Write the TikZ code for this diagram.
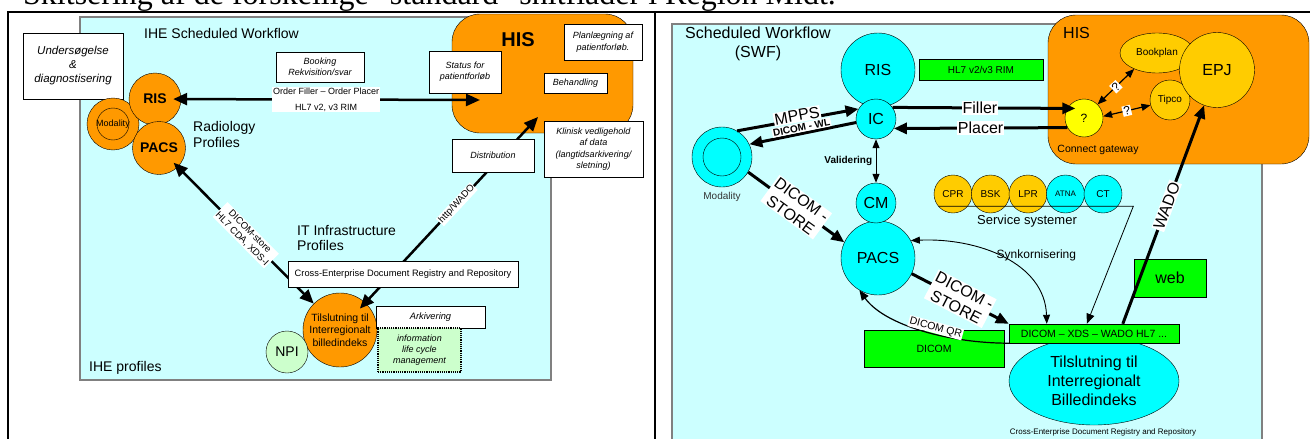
\documentclass[tikz,border=0pt]{standalone}
\usepackage{fontspec}
\setmainfont{Liberation Sans}
\newfontfamily\titlefont{Liberation Serif}
\usepackage{tikz}
\usetikzlibrary{positioning, arrows.meta, shapes.geometric}

\definecolor{lcyan}{RGB}{204,255,255}
\definecolor{hisorange}{RGB}{255,153,0}
\definecolor{gold}{RGB}{255,204,0}
\definecolor{aqua}{RGB}{0,255,255}
\definecolor{swfgreen}{RGB}{0,255,0}
\definecolor{lgreen}{RGB}{204,255,204}
\definecolor{qyellow}{RGB}{255,255,0}
\newcommand{\fsz}[2]{\fontsize{#1}{#2}\selectfont}

\begin{document}
\begin{tikzpicture}[x=1pt, y=-1pt,
        box/.style={draw, fill=white, inner sep=0pt, align=center, font=\itshape\fsz{9}{11}},
        circ/.style={circle, draw, inner sep=0pt},
        gbox/.style={draw, fill=swfgreen, inner sep=0pt, align=center},
        lbl/.style={fill=white, inner sep=1pt, align=center},
        txt/.style={inner sep=0pt, align=left, font=\fsz{14}{16}},
        fat/.style={line width=2.5pt, {Triangle[length=14pt,width=12pt]}-{Triangle[length=14pt,width=12pt]}},
        fatr/.style={line width=3pt, -{Triangle[length=13pt,width=11pt]}},
        thin2/.style={line width=1pt, {Triangle[length=9pt,width=7pt]}-{Triangle[length=9pt,width=7pt]}}]
    \useasboundingbox (0,0) rectangle (1310,439);
    \node[anchor=base west, inner sep=0pt, font=\titlefont\fsz{32}{36}] (title) at (23,5) {Skitsering af de forskellige "standard" snitflader i Region Midt.};

    % left: IHE profiles
    \draw[gray, line width=1.2pt, fill=lcyan] (80,17) rectangle (551,380);
    \node[font=\fsz{14}{16}] (ihesw) at (221.5,33) {IHE Scheduled Workflow};
    \node[box, font=\itshape\fsz{11.5}{14}, minimum width=100pt, minimum height=66pt] (under) at (73,66) {Undersøgelse\\\&\\diagnostisering};
    \node[draw, fill=hisorange, rounded corners=28pt, minimum width=181pt, minimum height=119pt] (hisl) at (542.5,73.5) {};
    \node[font=\bfseries\fsz{20}{24}] (hisltxt) at (518,40) {HIS};
    \node[circ, fill=hisorange, minimum size=52pt, font=\fsz{9}{11}] (modl) at (113,124) {Modality};
    \node[circ, minimum size=32pt] (modlin) at (113,124) {};
    \node[circ, fill=hisorange, minimum size=52pt, font=\bfseries\fsz{14}{16}] (risl) at (155,99) {RIS};
    \node[circ, fill=hisorange, minimum size=53pt, font=\bfseries\fsz{14}{16}] (pacsl) at (159,148) {PACS};
    \node[txt, anchor=west] (radprof) at (193,134) {Radiology\\Profiles};
    \node[circ, fill=hisorange, minimum size=74pt, align=center, font=\fsz{10.5}{12.5}] (tilsl) at (340,330) {Tilslutning til\\Interregionalt\\billedindeks};
    \node[circ, fill=lgreen, minimum size=42pt, font=\fsz{14}{16}] (npi) at (287,352) {NPI};
    \coordinate (hisin) at (480,100);
    \coordinate (hisout) at (538,117);
    \draw[fat, shorten <=-8pt] (risl) -- (hisin) node[lbl, pos=0.485, font=\fsz{9}{16}] (ordlbl) {Order Filler – Order Placer\\HL7 v2, v3 RIM};
    \draw[fat, shorten <=-6pt] (pacsl) -- (tilsl) node[lbl, midway, sloped, font=\fsz{9.5}{11}] (storelbl) {DICOM-store\\HL7 CDA, XDS-I};
    \draw[fat, shorten <=-8pt] (tilsl) -- (hisout) node[lbl, pos=0.53, sloped, font=\fsz{9.5}{11}] (wadolbl) {http/WADO};
    \node[box, minimum width=88pt, minimum height=30pt] (booking) at (320,67) {Booking\\Rekvisition/svar};
    \node[box, minimum width=72pt, minimum height=42pt] (status) at (465,72) {Status for\\patientforløb};
    \node[box, font=\itshape\fsz{9}{12}, minimum width=78pt, minimum height=36pt] (plan) at (603,42) {Planlægning af\\patientforløb.};
    \node[box, minimum width=63pt, minimum height=20pt] (behand) at (575.5,83) {Behandling};
    \node[box, font=\itshape\fsz{9}{11.5}, minimum width=99pt, minimum height=56pt] (klinisk) at (593.5,149) {Klinisk vedligehold\\af data\\(langtidsarkivering/\\sletning)};
    \node[box, minimum width=82pt, minimum height=33pt] (distrib) at (493,155.5) {Distribution};
    \node[txt, anchor=west] (itprof) at (297,238) {IT Infrastructure\\Profiles};
    \node[box, font=\fsz{9.3}{11}, minimum width=230pt, minimum height=26pt] (xdsl) at (403,274) {Cross-Enterprise Document Registry and Repository};
    \node[box, font=\itshape\fsz{9.3}{11}, minimum width=109pt, minimum height=22pt] (arkiv) at (430.5,317) {Arkivering};
    \node[box, fill=lgreen, densely dotted, line width=1.2pt, minimum width=83pt, minimum height=44pt] (ilcm) at (419.5,350) {information\\life cycle\\management};
    \node[txt, anchor=west] (iheprof) at (89,368) {IHE profiles};

    % right: SWF
    \draw[gray, line width=1.2pt, fill=lcyan] (672,24) rectangle (1262,450);
    \node[draw, fill=hisorange, rounded corners=28pt, minimum width=261pt, minimum height=149pt] (hisr) at (1178.5,89.5) {};
    \node[txt, anchor=west, font=\fsz{16}{18}] (hisrtxt) at (1063,33) {HIS};
    \node[align=center, font=\fsz{16}{19}] (swf) at (758,43.5) {Scheduled Workflow\\(SWF)};
    \node[gbox, font=\fsz{10}{12}, minimum width=124pt, minimum height=21pt] (hl7) at (981,69.5) {HL7 v2/v3 RIM};
    \node[circ, fill=aqua, minimum size=74pt, font=\fsz{16}{18}] (risr) at (878,70) {RIS};
    \node[circ, fill=aqua, minimum size=40pt, font=\fsz{16}{18}] (ic) at (876,119) {IC};
    \node[circ, fill=aqua, minimum size=74pt, font=\fsz{16}{18}] (pacsr) at (878,258) {PACS};
    \node[circ, fill=aqua, minimum size=40pt, font=\fsz{16}{18}] (cm) at (876,203) {CM};
    \node[circ, fill=aqua, minimum size=60pt] (modr) at (722,157) {};
    \node[circ, minimum size=38pt] (modrin) at (722,157) {};
    \node[font=\fsz{10}{12}, text=black!80] (modrtxt) at (722,197) {Modality};
    \foreach \n/\x/\c/\s/\f in {cpr/953/gold/10/CPR, bsk/990.5/gold/10/BSK, lpr/1028/gold/10/LPR, atna/1065.5/aqua/8/ATNA, ct/1103/aqua/10/CT}
        \node[circ, fill=\c, minimum size=38pt, font=\fsz{\s}{12}] (\n) at (\x,194) {\f};
    \node[font=\fsz{13}{15}] (servsys) at (1027,221) {Service systemer};
    \node[ellipse, draw, fill=gold, minimum width=74pt, minimum height=40pt, inner sep=0pt, font=\fsz{10}{12}] (book) at (1157,53) {Bookplan};
    \node[circ, fill=gold, minimum size=40pt, font=\fsz{10}{12}] (tipco) at (1170,100) {Tipco};
    \node[circ, fill=gold, minimum size=75pt, font=\fsz{16}{18}] (epj) at (1217,70) {EPJ};
    \node[circ, fill=qyellow, minimum size=38pt, font=\fsz{12}{14}] (q) at (1084,118) {?};
    \node[font=\fsz{10.5}{12}] (connect) at (1098,150) {Connect gateway};
    \node[ellipse, draw, fill=aqua, minimum width=170pt, minimum height=88pt, inner sep=0pt, align=center, font=\fsz{16}{19}] (tilsr) at (1094,381) {Tilslutning til\\Interregionalt\\Billedindeks};
    \node[gbox, font=\fsz{10.5}{12}, minimum width=140pt, minimum height=37pt] (dicom) at (934,348.5) {DICOM};
    \node[gbox, font=\fsz{10.5}{12}, minimum width=170pt, minimum height=19pt] (xds) at (1094,333.5) {DICOM – XDS – WADO HL7 ...};
    \node[gbox, font=\fsz{16}{18}, minimum width=72pt, minimum height=38pt] (web) at (1170,278) {web};
    \node[font=\fsz{8}{10}] (xdsr) at (1103,432) {Cross-Enterprise Document Registry and Repository};

    \draw[fatr, shorten >=-8pt] (ic.35) -- (q.150) node[lbl, midway, font=\fsz{16}{18}] (filler) {Filler};
    \draw[fatr] (q.210) -- (ic.-28) node[lbl, midway, font=\fsz{16}{18}] (placer) {Placer};
    \draw[fatr] (modr.60) -- (ic.150) node[lbl, midway, sloped, above=-4pt, font=\fsz{16}{18}] (mpps) {MPPS};
    \draw[fatr] (ic.190) -- (modr.25) node[lbl, midway, sloped, above, font=\bfseries\fsz{10}{12}] (wl) {DICOM - WL};
    \draw[thin2] (ic) -- (cm) node[midway, left, font=\bfseries\fsz{10}{12}] (valid) {Validering};
    \draw[fatr] (modr.-30) -- (pacsr.155) node[lbl, midway, sloped, font=\fsz{16}{19}] (store1) {DICOM -\\STORE};
    \draw[fatr] (pacsr.-25) -- (xds.north west) node[lbl, midway, sloped, font=\fsz{16}{19}] (store2) {DICOM -\\STORE};
    \draw[thin2, line width=0.9pt] (pacsr.28) .. controls +(67,-3) and +(-2,-61) .. ([xshift=38pt]xds.north west) node[pos=0.5, anchor=base west, inner sep=0pt, xshift=-7pt, font=\fsz{12}{14}] (sync) {Synkornisering};
    \draw[line width=1.2pt, -{Triangle[length=10pt,width=8pt]}] (xds.south west) .. controls +(-60,0) and +(25,35) .. (pacsr.240) node[lbl, pos=0.42, sloped, above, font=\fsz{10.5}{12}] (qr) {DICOM QR};
    \draw[line width=0.8pt, -{Triangle[length=10pt,width=8pt]}] (cpr.220) -- ++(195,0) -- ([xshift=78pt]xds.north west);
    \draw[fatr] ([xshift=114pt]xds.north west) -- (epj.250) node[lbl, pos=0.54, sloped, font=\fsz{16}{18}] (wador) {WADO};
    \draw[thin2, line width=1.2pt] (q.45) -- (book.215) node[lbl, midway, sloped, font=\fsz{12}{14}] (q1) {?};
    \draw[thin2, line width=1.2pt] (q.5) -- (tipco.195) node[lbl, midway, sloped, font=\fsz{12}{14}] (q2) {?};

    % frames
    \draw[line width=2.5pt] (8,445) -- (8,12) -- (1315,12);
    \draw[line width=2.5pt] (655,12) -- (655,445);
\end{tikzpicture}
\end{document}
